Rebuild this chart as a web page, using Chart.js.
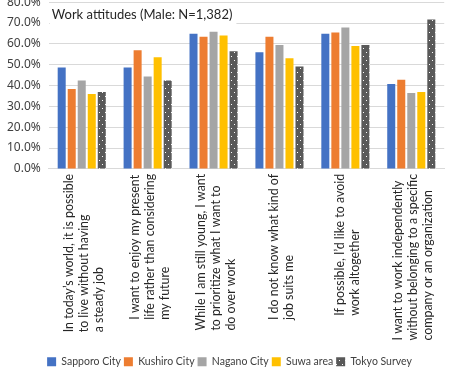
<!DOCTYPE html>
<html>
<head>
<meta charset="utf-8">
<script src="https://cdn.jsdelivr.net/npm/chart.js@4"></script>
<style>
    body { margin: 0; background: #fff; }
    #wrap { width: 461px; height: 369px; position: relative; overflow: hidden; }
    #inner { position: absolute; left: -1px; top: -13px; width: 462px; height: 390px; }
</style>
</head>
<body>
<div id="wrap"><div id="inner"><canvas id="workChart"></canvas></div></div>
<script>
// Category labels (already broken into lines like the original)
const categories = [
    ['In today\u2019s world, it is possible', 'to live without having', 'a steady job'],
    ['I want to enjoy my present', 'life rather than considering', 'my future'],
    ['While I am still young, I want', 'to prioritize what I want to', 'do over work'],
    ['I do not know what kind of', 'job suits me'],
    ['If possible, I\u2019d like to avoid', 'work altogether'],
    ['I want to work independently', 'without belonging to a specific', 'company or an organization']
];

const seriesNames = ['Sapporo City', 'Kushiro City', 'Nagano City', 'Suwa area', 'Tokyo Survey'];

// values in percent
const sapporo = [48.7, 48.7, 64.9, 56.0, 64.9, 40.8];
const kushiro = [38.4, 57.0, 63.4, 63.4, 65.4, 42.8];
const nagano  = [42.4, 44.3, 65.8, 59.5, 67.8, 36.4];
const suwa    = [35.9, 53.6, 64.0, 53.1, 59.0, 36.9];
const tokyo   = [36.9, 42.4, 56.5, 49.2, 59.5, 71.7];

const chartTitle = 'Work attitudes (Male: N=1,382)';

const labelSize = 12.4;
const labelFont = labelSize + 'px Lato, sans-serif';
const labelLineHeight = 15;
const labelPad = 5;

// Dotted fill for the Tokyo series
function makeDotPattern() {
    const c = document.createElement('canvas');
    c.width = 6;
    c.height = 8;
    const g = c.getContext('2d');
    g.fillStyle = '#595959';
    g.fillRect(0, 0, 6, 8);
    g.fillStyle = '#ffffff';
    g.fillRect(1, 1, 1, 1);
    g.fillRect(4, 5, 1, 1);
    return g.createPattern(c, 'repeat');
}

// Title drawn inside the plot area, on a white box
const insideTitle = {
    id: 'insideTitle',
    afterDraw(chart) {
        const ctx = chart.ctx;
        const area = chart.chartArea;
        ctx.save();
        ctx.font = '13px Lato, sans-serif';
        const w = ctx.measureText(chartTitle).width;
        ctx.fillStyle = '#ffffff';
        ctx.fillRect(area.left + 1, area.top + 5, w + 6, 17);
        ctx.fillStyle = '#262626';
        ctx.textBaseline = 'middle';
        ctx.fillText(chartTitle, area.left + 3, area.top + 13);
        ctx.restore();
    }
};

// Category labels: rotated, each line starting at the same bottom edge
const categoryLabels = {
    id: 'categoryLabels',
    afterDraw(chart) {
        const ctx = chart.ctx;
        const xScale = chart.scales.x;
        const top = chart.chartArea.bottom + labelPad;
        ctx.save();
        ctx.font = labelFont;
        ctx.fillStyle = '#262626';
        ctx.textAlign = 'left';
        ctx.textBaseline = 'middle';
        categories.forEach((lines, i) => {
            const cx = xScale.getPixelForValue(i) + 2;
            const maxW = Math.max(...lines.map(l => ctx.measureText(l).width));
            const startY = top + maxW;
            lines.forEach((line, j) => {
                const lx = cx + (j - (lines.length - 1) / 2) * labelLineHeight;
                ctx.save();
                ctx.translate(lx, startY);
                ctx.rotate(-Math.PI / 2);
                ctx.fillText(line, 0, 0);
                ctx.restore();
            });
        });
        ctx.restore();
    }
};

const colors = ['#4472C4', '#ED7D31', '#A5A5A5', '#FFC000', makeDotPattern()];
const values = [sapporo, kushiro, nagano, suwa, tokyo];

const datasets = seriesNames.map((name, i) => ({
    label: name,
    data: values[i],
    backgroundColor: colors[i],
    borderWidth: 0,
    categoryPercentage: 0.76,
    barPercentage: 0.8
}));

new Chart(document.getElementById('workChart'), {
    type: 'bar',
    data: { labels: categories, datasets: datasets },
    options: {
        responsive: true,
        maintainAspectRatio: false,
        animation: false,
        layout: { padding: { top: 0, right: 1, left: 0, bottom: 0 } },
        scales: {
            x: {
                grid: { display: false },
                border: { color: '#d9d9d9' },
                ticks: {
                    minRotation: 90,
                    maxRotation: 90,
                    autoSkip: false,
                    color: 'rgba(0,0,0,0)', // drawn by categoryLabels
                    font: { family: 'Lato, sans-serif', size: labelSize },
                    padding: labelPad
                }
            },
            y: {
                min: 0,
                max: 80,
                border: { display: false },
                grid: { color: '#d9d9d9', drawTicks: false },
                ticks: {
                    stepSize: 10,
                    padding: 8,
                    color: '#404040',
                    font: { family: '"Noto Sans", sans-serif', size: 12 },
                    callback: v => v.toFixed(1) + '%'
                }
            }
        },
        plugins: {
            legend: {
                position: 'bottom',
                labels: {
                    boxWidth: 9,
                    boxHeight: 9,
                    padding: 3,
                    color: '#404040',
                    font: { family: 'Lato, sans-serif', size: 10.5 }
                }
            },
            tooltip: { enabled: false }
        }
    },
    plugins: [insideTitle, categoryLabels]
});
</script>
</body>
</html>
